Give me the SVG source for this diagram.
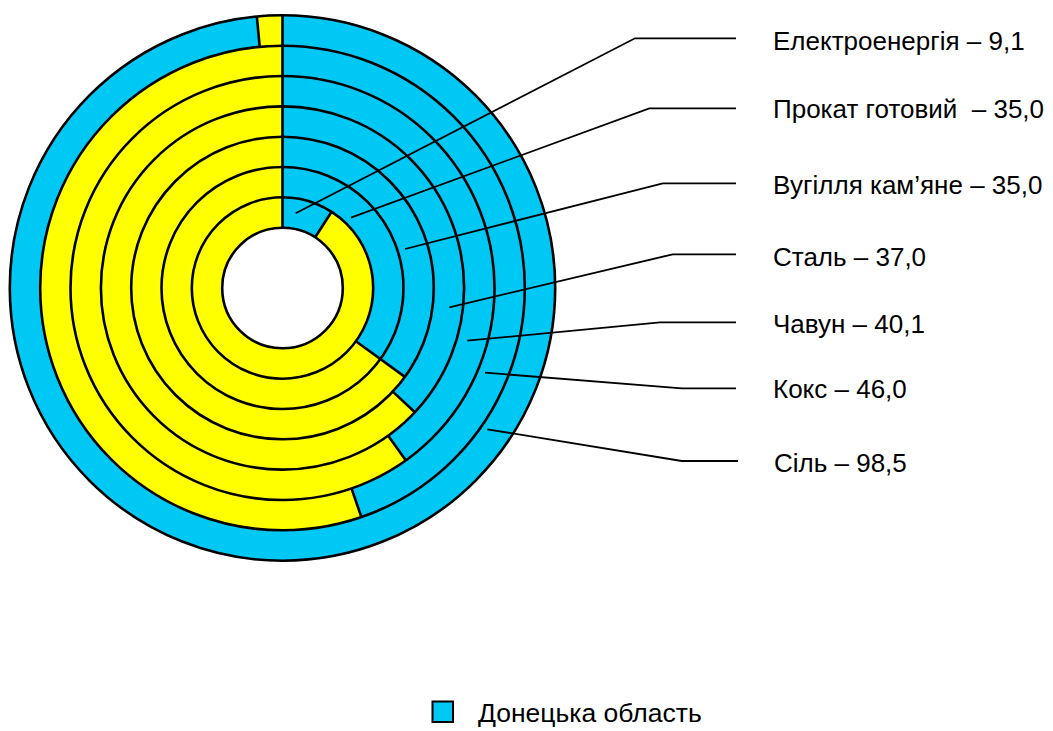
<svg xmlns="http://www.w3.org/2000/svg" width="1053" height="731" viewBox="0 0 1053 731">
<style>
.b{fill:#00C8F5}
.y{fill:#FFFF00}
.o{fill:none;stroke:#000;stroke-width:2.6}
.r{stroke:#000;stroke-width:2.6;fill:none}
.l{fill:none;stroke:#000;stroke-width:1.8}
.t{font-family:"Liberation Sans",Arial,sans-serif;font-size:26px;fill:#000}
</style>
<rect width="1053" height="731" fill="#fff"/>
<g id="chart">
<g id="ring-sil">
<circle class="y" cx="282.5" cy="288" r="272.7"/>
<path class="b" d="M282.5,288 L282.5,15.3 A272.7,272.7 0 1 1 256.84,16.51 Z"/>
</g>
<g id="ring-koks">
<circle class="y" cx="282.5" cy="288" r="242.3"/>
<path class="b" d="M282.5,288 L282.5,45.7 A242.3,242.3 0 0 1 361.39,517.09 Z"/>
</g>
<g id="ring-chavun">
<circle class="y" cx="282.5" cy="288" r="212"/>
<path class="b" d="M282.5,288 L282.5,76 A212,212 0 0 1 405.9,460.4 Z"/>
</g>
<g id="ring-stal">
<circle class="y" cx="282.5" cy="288" r="181.6"/>
<path class="b" d="M282.5,288 L282.5,106.4 A181.6,181.6 0 0 1 414.9,412.3 Z"/>
</g>
<g id="ring-vugillia">
<circle class="y" cx="282.5" cy="288" r="151.3"/>
<path class="b" d="M282.5,288 L282.5,136.7 A151.3,151.3 0 0 1 404.9,376.9 Z"/>
</g>
<g id="ring-prokat">
<circle class="y" cx="282.5" cy="288" r="121"/>
<path class="b" d="M282.5,288 L282.5,167 A121,121 0 0 1 380.4,359.1 Z"/>
</g>
<g id="ring-elektro">
<circle class="y" cx="282.5" cy="288" r="90.7"/>
<path class="b" d="M282.5,288 L282.5,197.3 A90.7,90.7 0 0 1 331.6,211.8 Z"/>
</g>
<circle cx="282.5" cy="288" r="60.3" fill="#fff"/>
<g id="outlines">
<circle class="o" cx="282.5" cy="288" r="272.7"/>
<circle class="o" cx="282.5" cy="288" r="242.3"/>
<circle class="o" cx="282.5" cy="288" r="212"/>
<circle class="o" cx="282.5" cy="288" r="181.6"/>
<circle class="o" cx="282.5" cy="288" r="151.3"/>
<circle class="o" cx="282.5" cy="288" r="121"/>
<circle class="o" cx="282.5" cy="288" r="90.7"/>
<circle class="o" cx="282.5" cy="288" r="60.3"/>
<path class="r" d="M282.5,227.7 L282.5,15.3 M259.7,46.8 L256.84,16.51 M351.5,488.4 L361.39,517.09 M388.2,435.7 L405.9,460.4 M392.8,391.6 L414.9,412.3 M355.9,341.3 L404.9,376.9 M315.2,237.3 L331.6,211.8"/>
</g>
</g>
<g id="connectors">
<polyline class="l" points="295.7,213.3 635,38.3 736,38.3"/>
<polyline class="l" points="351,217.7 649.3,108.3 736,108.3"/>
<polyline class="l" points="405,249 662.7,183.3 736,183.3"/>
<polyline class="l" points="449.3,307.3 672.7,254.3 736,254.3"/>
<polyline class="l" points="467.3,340.7 660,322.3 736,322.3"/>
<polyline class="l" points="485,372.7 681.7,388.3 736,388.3"/>
<polyline class="l" points="487.3,429.3 681.7,461 738,461"/>
</g>
<g id="labels">
<text class="t" x="773" y="50">Електроенергія – 9,1</text>
<text class="t" x="773" y="118" xml:space="preserve">Прокат готовий  – 35,0</text>
<text class="t" x="773" y="194">Вугілля кам’яне – 35,0</text>
<text class="t" x="773" y="265.5">Сталь – 37,0</text>
<text class="t" x="773" y="333">Чавун – 40,1</text>
<text class="t" x="773" y="398">Кокс – 46,0</text>
<text class="t" x="774" y="472">Сіль – 98,5</text>
</g>
<g id="legend">
<rect x="432.5" y="701.5" width="20.5" height="20.5" fill="#00C8F5" stroke="#000" stroke-width="2"/>
<text class="t" x="478" y="722" style="font-size:26.5px">Донецька область</text>
</g>
</svg>
